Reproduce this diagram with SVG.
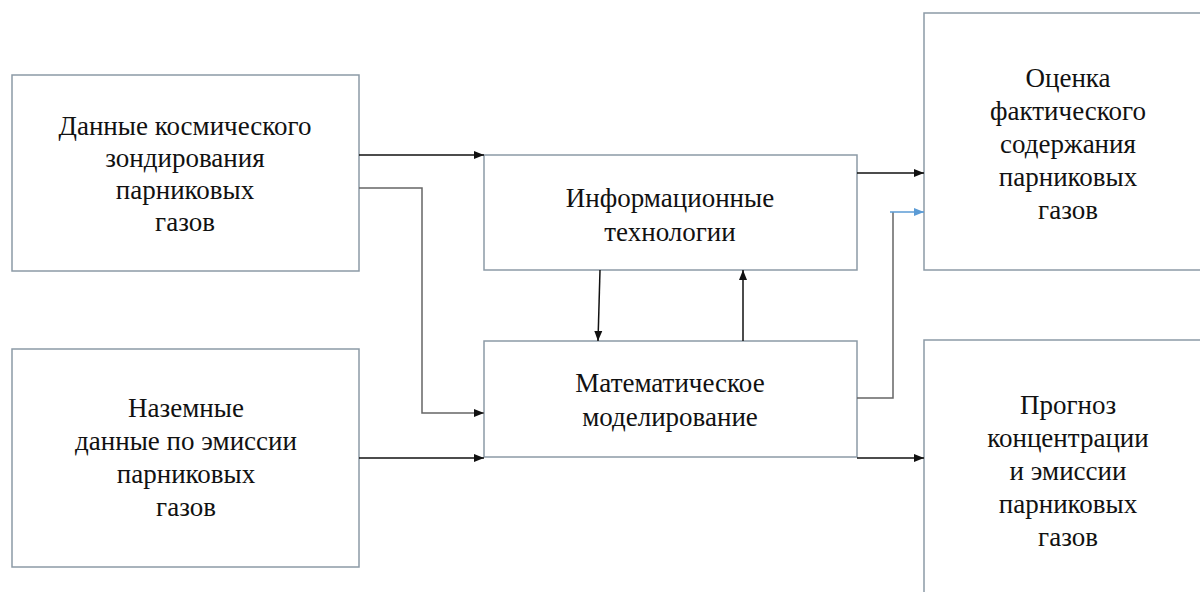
<svg xmlns="http://www.w3.org/2000/svg" width="1200" height="592" viewBox="0 0 1200 592">
<style>
.box{fill:#fff;stroke:#8c9aa6;stroke-width:1.5}
.t{font-family:"Liberation Serif","Times New Roman",serif;font-size:27px;fill:#111;text-anchor:middle}
.c{fill:none;stroke:#111;stroke-width:1.5}
.g{fill:none;stroke:#666;stroke-width:1.5}
.b{fill:none;stroke:#5b9bd5;stroke-width:1.5}
</style>
<defs>
<marker id="ah" viewBox="0 0 10 10" refX="10" refY="5" markerWidth="10" markerHeight="10" markerUnits="userSpaceOnUse" orient="auto"><path d="M0,1 L10,5 L0,9 Z" fill="#111"/></marker>
<marker id="ahb" viewBox="0 0 10 10" refX="10" refY="5" markerWidth="10" markerHeight="10" markerUnits="userSpaceOnUse" orient="auto"><path d="M0,1 L10,5 L0,9 Z" fill="#5b9bd5"/></marker>
</defs>
<rect width="1200" height="592" fill="#fff"/>
<g id="n1"><rect class="box" x="12" y="75" width="347" height="196"/>
<text class="t" x="185" y="135">Данные космического</text>
<text class="t" x="185" y="167">зондирования</text>
<text class="t" x="185" y="199">парниковых</text>
<text class="t" x="185" y="231">газов</text></g>
<g id="n2"><rect class="box" x="12" y="349" width="347" height="218"/>
<text class="t" x="186" y="417">Наземные</text>
<text class="t" x="186" y="450">данные по эмиссии</text>
<text class="t" x="186" y="483">парниковых</text>
<text class="t" x="186" y="516">газов</text></g>
<g id="n3"><rect class="box" x="484" y="155" width="373" height="115"/>
<text class="t" x="670" y="207">Информационные</text>
<text class="t" x="670" y="241">технологии</text></g>
<g id="n4"><rect class="box" x="484" y="341" width="373" height="116"/>
<text class="t" x="670" y="392">Математическое</text>
<text class="t" x="670" y="426">моделирование</text></g>
<g id="n5"><rect class="box" x="924" y="13" width="300" height="257"/>
<text class="t" x="1068" y="87">Оценка</text>
<text class="t" x="1068" y="120">фактического</text>
<text class="t" x="1068" y="153">содержания</text>
<text class="t" x="1068" y="186">парниковых</text>
<text class="t" x="1068" y="219">газов</text></g>
<g id="n6"><rect class="box" x="924" y="340" width="300" height="270"/>
<text class="t" x="1068" y="414">Прогноз</text>
<text class="t" x="1068" y="447">концентрации</text>
<text class="t" x="1068" y="480">и эмиссии</text>
<text class="t" x="1068" y="513">парниковых</text>
<text class="t" x="1068" y="546">газов</text></g>
<g id="connectors">
<path class="c" d="M359,155 H484" marker-end="url(#ah)"/>
<path class="g" d="M359,188 H422 V413 H484" marker-end="url(#ah)"/>
<path class="c" d="M359,458 H484" marker-end="url(#ah)"/>
<path class="c" d="M600,270 L598,341" marker-end="url(#ah)"/>
<path class="c" d="M743,341 V270" marker-end="url(#ah)"/>
<path class="c" d="M857,173 H924" marker-end="url(#ah)"/>
<path class="g" d="M857,398 H893 V212"/>
<path class="b" d="M890,212 H924" marker-end="url(#ahb)"/>
<path class="c" d="M857,458 H924" marker-end="url(#ah)"/>
</g>
</svg>
